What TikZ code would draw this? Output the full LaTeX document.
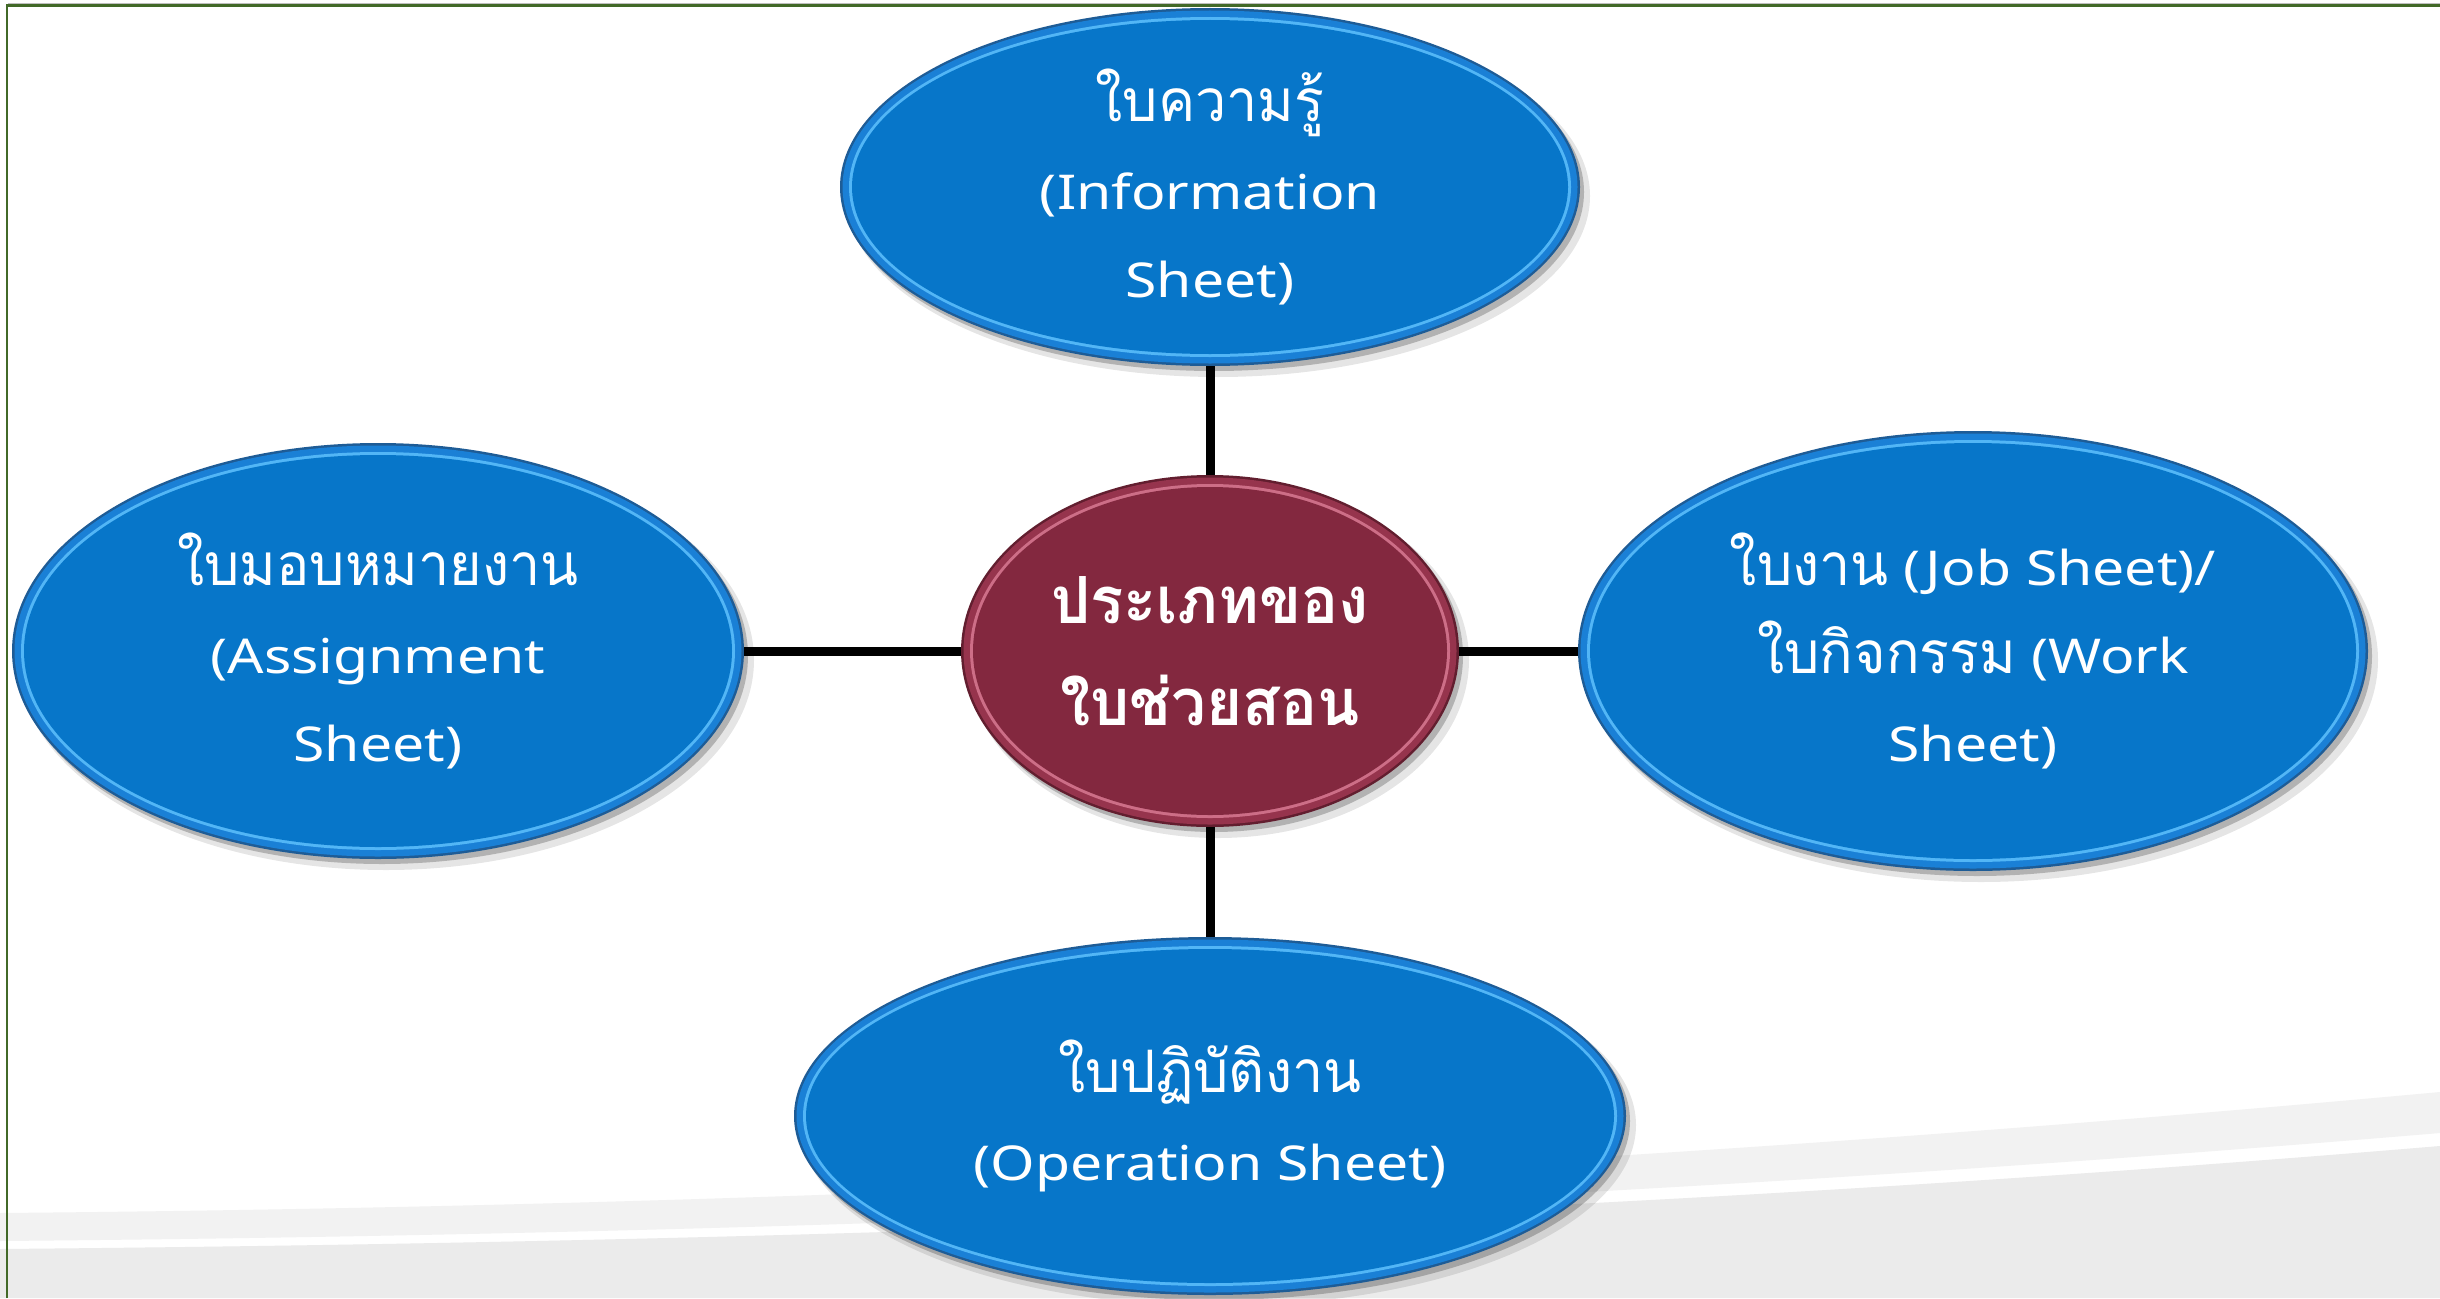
\documentclass[tikz,border=0pt]{standalone}
\usepackage{fontspec}
\setmainfont[FakeStretch=1.19]{Noto Sans}
\newfontfamily\thaifont[Script=Thai,Scale=1.22,FakeStretch=0.95]{Loma}
\usetikzlibrary{shapes.geometric}
\definecolor{bluemain}{RGB}{7,118,201}
\definecolor{blueedge}{RGB}{30,92,150}
\definecolor{bluerim}{RGB}{26,128,214}
\definecolor{bluehi}{RGB}{82,182,246}
\definecolor{redmain}{RGB}{131,40,63}
\definecolor{rededge}{RGB}{98,30,47}
\definecolor{redrim}{RGB}{150,52,77}
\definecolor{redhi}{RGB}{205,110,135}
\definecolor{swlight}{RGB}{242,242,242}
\definecolor{swgray}{RGB}{235,235,235}
\definecolor{frameline}{RGB}{66,105,40}
\tikzset{
  bubbleshape/.style={ellipse, inner sep=0pt, outer sep=0pt, draw=none},
  bubbletext/.style={text=white, align=center, inner sep=0pt,
     font=\fontsize{48}{88}\selectfont},
  centertext/.style={text=white, align=center, inner sep=0pt,
     font=\thaifont\bfseries\fontsize{53.3}{102}\selectfont},
  connector/.style={draw=black, line width=9pt}
}
\newcommand{\mybubble}[7]{%
  \fill[black, opacity=.10] (#2+8,#3+9) ellipse [x radius=#4+2, y radius=#5+2];
  \fill[black, opacity=.22] (#2+4,#3+5) ellipse [x radius=#4, y radius=#5];
  \fill[#6edge] (#2,#3) ellipse [x radius=#4, y radius=#5];
  \fill[#6rim] (#2,#3) ellipse [x radius=#4-2.5, y radius=#5-2.5];
  \fill[#6hi] (#2,#3) ellipse [x radius=#4-9, y radius=#5-9];
  \fill[#6main] (#2,#3) ellipse [x radius=#4-12, y radius=#5-12];
  \node[bubbleshape, minimum width=2*#4, minimum height=2*#5] (#1) at (#2,#3) {};
  \node[#7] (#1-text) at (#2,#3)}
\begin{document}
\begin{tikzpicture}[x=1pt,y=-1pt]
\useasboundingbox (0,0) rectangle (2440,1298);
\fill[white] (0,0) rectangle (2440,1298);
% background swoosh
\fill[swgray] (0,1249) .. controls (900,1241) and (1700,1208) .. (2440,1146) -- (2440,1298) -- (0,1298) -- cycle;
\fill[swlight] (0,1213) .. controls (900,1205) and (1700,1160) .. (2440,1092) -- (2440,1133) .. controls (1700,1195) and (900,1233) .. (0,1241) -- cycle;
% frame
\draw[black!25, line width=1pt] (8,3.5) -- (2440,3.5);
\draw[frameline, line width=2.4pt] (7,1298) -- (7,5.5) -- (2440,5.5);
% bubbles
\mybubble{info}{1210}{187}{370}{179}{blue}{bubbletext}{{\thaifont ใบความรู้}\\(Information\\Sheet)};
\mybubble{assign}{378}{651}{366}{208}{blue}{bubbletext}{{\thaifont ใบมอบหมายงาน}\\(Assignment\\Sheet)};
\mybubble{job}{1973}{651}{395}{220}{blue}{bubbletext}{{\thaifont ใบงาน} (Job Sheet)/\\{\thaifont ใบกิจกรรม} (Work\\Sheet)};
\mybubble{oper}{1210}{1116}{416}{179}{blue}{bubbletext}{{\thaifont ใบปฏิบัติงาน}\\(Operation Sheet)};
\mybubble{core}{1210}{651}{249}{176}{red}{centertext}{ประเภทของ\\ใบช่วยสอน};
% connectors
\draw[connector] (info) -- (core);
\draw[connector] (core) -- (oper);
\draw[connector] (assign) -- (core);
\draw[connector] (core) -- (job);
\end{tikzpicture}
\end{document}
